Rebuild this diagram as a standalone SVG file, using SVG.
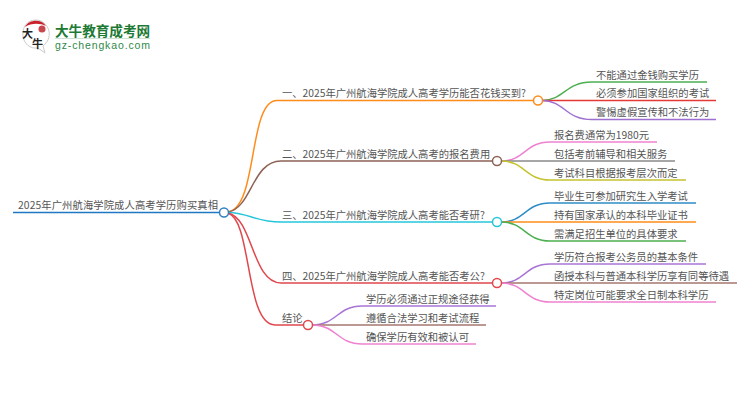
<svg xmlns="http://www.w3.org/2000/svg" width="750" height="410" viewBox="0 0 750 410">
<style>
text{font-family:"Noto Sans CJK SC","Noto Sans",sans-serif;font-size:10.3px;fill:#555}
.c path,path.w{fill:none;stroke-width:1.5}
circle.n{fill:#fff;stroke-width:1.5}
</style>
<rect width="750" height="410" fill="#fff"/>
<g id="logo">
<path d="M36 20C27 20 22 27 23 36C24 44 30 49 38 48L45 53L43 46C48 42 50 37 49 31C47 24 42 20 36 20Z" fill="#fff" stroke="#ccc"/>
<path d="M25 27C29 19 42 19 46 26C40 23 31 23 25 27Z" fill="#c8232c"/>
<circle cx="42" cy="29" r="3.5" fill="#c8464c"/>
<text x="22" y="38" style="font-size:11px;fill:#222;font-weight:700">大</text>
<text x="32" y="48" style="font-size:11px;fill:#222;font-weight:700">牛</text>
<text x="55" y="36" style="font-size:13.6px;fill:#1c7a34;font-weight:700">大牛教育成考网</text>
<rect x="55" y="38" width="95" height="1" fill="#cfe3d4"/>
<text x="55" y="49" textLength="95" style="font-size:10.5px;fill:#2f8a4a;font-family:'Liberation Sans',sans-serif">gz-chengkao.com</text>
</g>
<g id="connectors" class="c">
<path stroke="#ff8c1a" d="M228 212C258 208 248 100.500 277 100.500L533 100.500"/>
<path stroke="#8d6355" d="M228 212C252 208 252 161 281 161L492 161"/>
<path stroke="#26c6da" d="M228 212.500C250 213 255 222 281 222L492 222"/>
<path stroke="#e0474c" d="M228 213C253 218 252 283 281 283L492 283"/>
<path stroke="#e0474c" d="M228 213C252 220 245 325 275 325L303 325"/>
<path stroke="#1f78c1" stroke-width="2" d="M13 212.500L220 212.500"/>
<path stroke="#4caf50" d="M542 100.500C565 100 565 82 592 82L707 82"/>
<path stroke="#e53935" d="M542 100.500L716 100.500"/>
<path stroke="#9c6fd0" d="M542 100.500C565 101 565 119.500 592 119.500L716 119.500"/>
<path stroke="#ee82d0" d="M501 161C525 161 525 142 550 142L657 142"/>
<path stroke="#8a8a8a" d="M501 161L675 161"/>
<path stroke="#c5c230" d="M501 161C525 161 525 180 550 180L686 180"/>
<path stroke="#2f8cc7" d="M501 222C525 222 525 203 550 203L696 203"/>
<path stroke="#ff8c1a" d="M501 222L696 222"/>
<path stroke="#4caf50" d="M501 222C525 222 525 241 550 241L686 241"/>
<path stroke="#a875d6" d="M501 283C525 283 525 264 550 264L706 264"/>
<path stroke="#a5766c" d="M501 283L737 283"/>
<path stroke="#ee82d0" d="M501 283C525 283 525 302 550 302L716 302"/>
<path stroke="#a875d6" d="M312 325C337 325 337 306 362 306L496 306"/>
<path stroke="#a5766c" d="M312 325L486 325"/>
<path stroke="#ee82d0" d="M312 325C337 325 337 344 362 344L476 344"/>
</g>
<g id="root"><text x="18" y="209" textLength="200">2025年广州航海学院成人高考学历购买真相</text><circle class="n" cx="224" cy="212.500" r="4.500" stroke="#2f80c4"/></g>
<g id="branch1"><text x="282" y="97">一、2025年广州航海学院成人高考学历能否花钱买到?</text><circle class="n" cx="538" cy="100.500" r="4.500" stroke="#ff8c1a"/></g>
<g id="branch2"><text x="282" y="157.500">二、2025年广州航海学院成人高考的报名费用</text><circle class="n" cx="497" cy="161" r="4.500" stroke="#8d6355"/></g>
<g id="branch3"><text x="282" y="218.500">三、2025年广州航海学院成人高考能否考研?</text><circle class="n" cx="497" cy="222" r="4.500" stroke="#26c6da"/></g>
<g id="branch4"><text x="282" y="279.500">四、2025年广州航海学院成人高考能否考公?</text><circle class="n" cx="497" cy="283" r="4.500" stroke="#e0474c"/></g>
<g id="branch5"><text x="282" y="321.500">结论</text><circle class="n" cx="308" cy="325" r="4.500" stroke="#e0474c"/></g>
<g id="leaf1a"><text x="596" y="78.500">不能通过金钱购买学历</text></g>
<g id="leaf1b"><text x="596" y="97">必须参加国家组织的考试</text></g>
<g id="leaf1c"><text x="596" y="116">警惕虚假宣传和不法行为</text></g>
<g id="leaf2a"><text x="554" y="138.500">报名费通常为1980元</text></g>
<g id="leaf2b"><text x="554" y="157.500">包括考前辅导和相关服务</text></g>
<g id="leaf2c"><text x="554" y="176.500">考试科目根据报考层次而定</text></g>
<g id="leaf3a"><text x="554" y="199.500">毕业生可参加研究生入学考试</text></g>
<g id="leaf3b"><text x="554" y="218.500">持有国家承认的本科毕业证书</text></g>
<g id="leaf3c"><text x="554" y="237.500">需满足招生单位的具体要求</text></g>
<g id="leaf4a"><text x="554" y="260.500">学历符合报考公务员的基本条件</text></g>
<g id="leaf4b"><text x="554" y="279.500">函授本科与普通本科学历享有同等待遇</text></g>
<g id="leaf4c"><text x="554" y="298.500">特定岗位可能要求全日制本科学历</text></g>
<g id="leaf5a"><text x="366" y="302.500">学历必须通过正规途径获得</text></g>
<g id="leaf5b"><text x="366" y="321.500">遵循合法学习和考试流程</text></g>
<g id="leaf5c"><text x="366" y="340.500">确保学历有效和被认可</text></g>
</svg>
